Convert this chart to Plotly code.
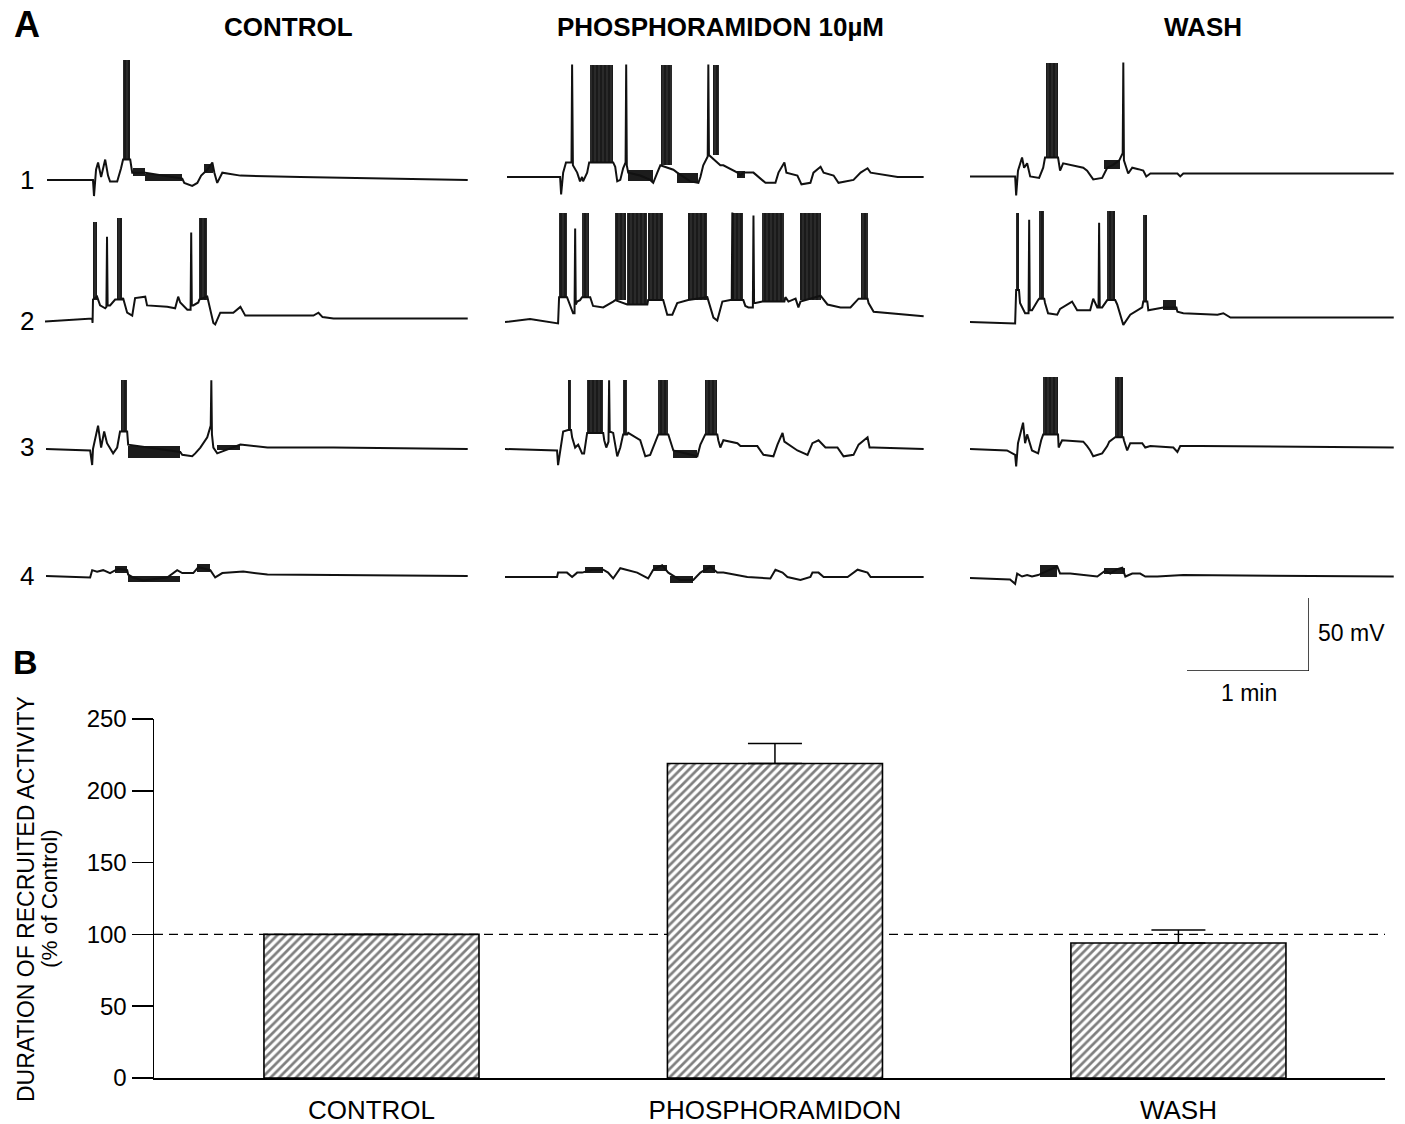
import plotly.graph_objects as go

# ============================ DATA ============================
# Panel A: membrane potential recordings (time in s from trace start, mV relative to rest)
CONDITIONS = ["CONTROL", "PHOSPHORAMIDON 10µM", "WASH"]
CELL_LABELS = ["1", "2", "3", "4"]

# --- cell 1 ---
R1_CONTROL = [(1.0, 0), (23.6, 0), (24.1, -11), (25.1, 7), (26.1, 12), (27.6, 2), (29.6, 14), (31.0, 3),
              (32.0, -1), (35.5, -1), (37.4, 8), (38.4, 14), (41.9, 14), (42.9, 5), (49.3, 5), (67.5, 1),
              (68.5, -2), (72.4, -4), (74.9, -2), (76.8, 3), (79.8, 7), (82.3, 12), (83.3, 5), (84.7, -2),
              (87.2, 5), (96.1, 3), (125.6, 2), (207.9, 0)]
R1_CONTROL_BURSTS = [(38.4, 41.9, 14, 82)]
R1_CONTROL_BANDS = [(43.3, 49.3, 3, 8), (49.3, 67.5, -1, 4), (78.0, 82.5, 5, 11)]

R1_PHOSPHO = [(1.0, 0), (27.1, 0), (27.6, -12), (28.6, 3), (30.0, 10), (32.7, 10), (33.0, 77), (33.4, 8),
              (35.5, 3), (36.9, -3), (37.9, 0), (38.4, -3), (40.4, 3), (41.4, 10), (53.2, 10), (54.2, 7),
              (55.2, -3), (56.7, -2), (58.1, 6), (59.3, 10), (59.6, 77), (59.9, 8), (60.6, 3), (66.5, 1),
              (71.4, -2), (72.9, -4), (74.9, 3), (76.4, 8), (82.8, 5), (84.7, 3), (91.1, -3), (95.1, -4),
              (96.1, 0), (97.5, 8), (99.7, 14), (100.0, 77), (100.3, 15), (105.9, 8), (107.4, 8), (114.3, 3),
              (115.8, 1), (117.2, 3), (122.2, 3), (124.6, 0), (128.1, -4), (133.0, -4), (134.5, 3),
              (137.4, 10), (138.4, 3), (143.8, 1), (145.8, -5), (150.2, -4), (151.7, 3), (155.2, 7),
              (156.7, 3), (161.6, 1), (164.0, -4), (171.4, -2), (174.9, 3), (178.3, 6), (179.8, 3),
              (193.1, 0), (205.9, 0)]
R1_PHOSPHO_BURSTS = [(41.9, 53.2, 10, 77), (76.8, 82.3, 8, 77), (102.4, 105.4, 15, 77)]
R1_PHOSPHO_BANDS = [(60.6, 72.9, -3, 5), (84.7, 95.1, -4, 3), (114.0, 118.0, -1, 4)]

R1_WASH = [(0, -1), (22.2, -1), (22.7, -14), (23.6, 3), (25.6, 12), (26.6, 5), (28.1, 8), (29.6, -1),
           (34.0, -2), (36.0, 5), (36.9, 12), (43.3, 12), (44.3, 3), (45.8, 8), (55.7, 5), (57.6, 3),
           (60.6, -3), (65.0, -2), (67.5, 5), (70.4, 7), (73.4, 10), (75.1, 15), (75.4, 77), (75.7, 10),
           (77.8, 1), (79.8, 5), (82.8, 4), (85.2, 3), (86.7, -1), (88.7, 1), (102.0, 1), (103.4, -1),
           (104.9, 1), (208.4, 1)]
R1_WASH_BURSTS = [(37.4, 43.3, 12, 77)]
R1_WASH_BANDS = [(66.0, 74.0, 4, 10)]

# --- cell 2 ---
R2_CONTROL = [(0, -1), (23.2, 1), (23.4, -2), (23.6, 14), (25.6, 16), (27.1, 10), (29.6, 8), (30.2, 9),
              (30.5, 57), (30.8, 10), (32.0, 10), (34.5, 14), (35.5, 14), (37.9, 14), (38.4, 15), (40.4, 5),
              (42.9, 3), (44.3, 15), (49.3, 16), (50.2, 10), (60.1, 9), (64.0, 8), (65.5, 16), (66.5, 12),
              (70.0, 7), (71.6, 7), (71.9, 60), (72.2, 10), (72.9, 10), (75.4, 12), (75.9, 14), (79.8, 16),
              (82.8, -2), (83.7, -3), (86.2, 5), (92.6, 5), (96.1, 9), (98.5, 3), (101.0, 3), (132.0, 3),
              (134.5, 5), (136.5, 2), (141.9, 1), (207.9, 1)]
R2_CONTROL_BURSTS = [(23.6, 25.6, 14, 67), (35.5, 37.9, 14, 70), (75.9, 79.8, 14, 70)]
R2_CONTROL_BANDS = []

R2_PHOSPHO = [(0, 0), (12.3, 2), (26.1, -1), (26.6, 17), (30.5, 17), (31.0, 15), (33.5, 6), (34.2, 6),
              (34.5, 64), (34.8, 12), (35.5, 14), (36.9, 15), (37.9, 17), (41.4, 17), (41.9, 17), (43.3, 11),
              (48.3, 10), (53.2, 14), (54.2, 15), (60.1, 12), (70.0, 12), (70.4, 15), (77.8, 15), (79.8, 5),
              (82.3, 5), (84.7, 13), (89.7, 15), (90.1, 15), (99.5, 17), (102.5, 3), (104.4, 1), (106.9, 14),
              (110.8, 15), (111.5, 15), (111.8, 75), (112.1, 15), (117.2, 15), (118.2, 11), (119.7, 10),
              (121.9, 10), (122.2, 73), (122.5, 13), (123.2, 13), (126.6, 14), (137.4, 14), (137.9, 17),
              (139.4, 14), (142.9, 16), (144.3, 10), (145.3, 14), (155.2, 18), (158.6, 12), (165.0, 10),
              (169.9, 10), (173.9, 16), (174.9, 16), (178.3, 16), (178.8, 13), (181.3, 7), (205.9, 4)]
R2_PHOSPHO_BURSTS = [(26.6, 30.5, 17, 75), (37.9, 41.4, 17, 75), (54.2, 59.6, 15, 75), (60.1, 70.0, 12, 75),
                     (70.4, 77.8, 15, 75), (90.1, 99.5, 15, 75), (112.3, 117.2, 15, 75), (126.6, 137.4, 14, 75),
                     (145.3, 155.2, 15, 75), (174.9, 178.3, 16, 75)]
R2_PHOSPHO_BANDS = []

R2_WASH = [(0, 0), (22.2, -1), (22.7, 22), (24.1, 22), (24.6, 13), (27.1, 6), (28.8, 6), (29.1, 70),
           (29.4, 8), (30.5, 8), (33.5, 15), (34.0, 16), (36.5, 16), (36.9, 13), (38.4, 6), (42.9, 5),
           (44.3, 9), (50.2, 14), (52.7, 8), (59.1, 8), (60.6, 16), (62.6, 10), (63.2, 10), (63.5, 68),
           (63.8, 10), (65.0, 10), (67.5, 15), (71.4, 15), (72.4, 12), (75.4, -2), (78.8, 5), (84.7, 10),
           (85.2, 14), (87.2, 14), (87.7, 8), (95.1, 10), (101.5, 10), (102.0, 7), (104.9, 6), (121.7, 5),
           (124.6, 6), (128.1, 3), (208.4, 3)]
R2_WASH_BURSTS = [(22.7, 24.1, 22, 75), (34.0, 36.5, 16, 76), (67.5, 71.4, 15, 76), (85.2, 87.2, 14, 73)]
R2_WASH_BANDS = [(95.1, 101.5, 8, 15)]

# --- cell 3 ---
R3_CONTROL = [(0.5, 0), (22.2, -1), (23.2, -11), (23.6, 0), (26.1, 16), (27.6, 1), (29.1, 12), (30.5, 4),
              (33.5, -3), (35.5, 1), (36.9, 12), (37.4, 12), (40.4, 12), (40.9, 3), (66.5, -2), (67.5, -4),
              (72.4, -5), (73.9, -3), (76.4, 1), (79.8, 8), (81.5, 16), (81.8, 47), (82.1, 10),
              (82.8, 1), (84.7, -3), (96.1, 3), (109.4, 1), (141.9, 1), (207.9, 0)]
R3_CONTROL_BURSTS = [(37.4, 40.4, 12, 47)]
R3_CONTROL_BANDS = [(40.9, 66.5, -6, 2), (84.7, 96.1, -1, 3)]

R3_PHOSPHO = [(0, 0), (25.6, -1), (26.1, -11), (27.1, -1), (28.6, 12), (31.0, 13), (32.5, 13), (33.0, 8),
              (34.5, 1), (36.0, 3), (37.9, -3), (38.9, -3), (40.4, 11), (48.3, 11), (48.8, 6), (49.8, 1),
              (50.9, 5), (51.2, 47), (51.5, 12), (53.2, 11), (55.2, -5), (56.7, 1), (58.1, 10), (60.1, 10),
              (60.6, 11), (66.5, 6), (69.0, -5), (71.4, -4), (73.9, 4), (75.4, 10), (80.3, 10), (81.3, 5),
              (82.8, -1), (94.6, -5), (96.1, 3), (98.5, 10), (104.4, 10), (104.9, 6), (105.9, 1), (107.4, 6),
              (114.3, 4), (115.8, 2), (124.1, 2), (127.1, -4), (132.0, -5), (134.0, 3), (136.5, 11),
              (137.4, 5), (143.8, -1), (148.8, -4), (151.2, 4), (154.2, 6), (157.6, 1), (163.5, 1),
              (166.5, -5), (171.4, -4), (173.9, 3), (178.3, 8), (179.3, 1), (181.3, 1), (205.9, 0)]
R3_PHOSPHO_BURSTS = [(31.0, 32.5, 13, 47), (40.4, 48.3, 11, 47), (58.1, 60.1, 10, 47), (75.4, 80.3, 10, 47),
                     (98.5, 104.4, 10, 47)]
R3_PHOSPHO_BANDS = [(82.8, 94.6, -6, -1)]

R3_WASH = [(0, 0), (18.2, -1), (22.2, -4), (22.7, -12), (23.6, 4), (26.1, 18), (27.1, 4), (28.1, 10),
           (30.5, -1), (33.5, -3), (35.0, 6), (36.0, 10), (43.3, 10), (43.6, 1), (45.3, 6), (55.7, 5),
           (57.6, 2), (59.1, -1), (60.6, -5), (65.0, -3), (67.5, 2), (68.5, 5), (71.4, 8), (75.4, 8),
           (75.7, 6), (77.3, -1), (78.8, 4), (84.7, 4), (86.2, 1), (88.7, 2), (100.0, 1), (102.0, -2),
           (103.4, 2), (113.3, 2), (208.4, 1)]
R3_WASH_BURSTS = [(36.0, 43.3, 10, 49), (71.4, 75.4, 8, 49)]
R3_WASH_BANDS = []

# --- cell 4 ---
R4_CONTROL = [(0.5, 0), (22.2, -1), (23.2, 4), (25.6, 3), (28.6, 4), (32.0, 2), (36.0, 5), (40.4, 4),
              (40.9, 1), (43.3, -1), (48.3, -3), (60.1, -1), (65.0, 4), (67.5, 2), (72.9, 2), (75.4, 6),
              (81.3, 4), (83.7, -1), (87.2, 2), (97.5, 3), (109.4, 1), (207.9, 0)]
R4_CONTROL_BURSTS = []
R4_CONTROL_BANDS = [(34.5, 40.4, 2, 7), (40.9, 66.5, -4, 0), (74.9, 81.3, 3, 8)]

R4_PHOSPHO = [(0, 0), (25.6, 0), (26.1, 3), (30.5, 3), (33.0, 0), (35.5, 3), (37.9, 3), (43.0, 5),
              (48.3, 5), (50.7, 3), (53.2, -1), (56.7, 6), (65.0, 3), (68.0, 1), (70.4, -1), (72.9, 5),
              (77.3, 8), (80.3, 3), (86.0, -2), (92.6, -2), (96.1, 3), (101.0, 7), (104.4, 3), (107.4, 3),
              (119.2, 0), (130.5, -1), (133.0, 5), (136.5, 3), (138.9, 0), (145.3, -2), (150.2, 0),
              (151.2, 3), (154.2, 3), (156.7, 0), (168.5, 0), (173.4, 5), (178.3, 3), (179.8, 0), (205.9, 0)]
R4_PHOSPHO_BURSTS = []
R4_PHOSPHO_BANDS = [(39.4, 48.3, 3, 7), (72.9, 79.8, 4, 8), (81.3, 92.6, -4, 1), (97.5, 103.4, 3, 8)]

R4_WASH = [(0, 0), (19.7, -1), (22.2, -4), (23.2, 3), (25.6, 1), (28.1, 2), (30.5, 1), (33.5, 2),
           (42.9, 8), (44.3, 3), (49.3, 3), (62.6, 1), (66.5, 5), (69.0, 3), (72.4, 6), (74.9, 7),
           (76.4, 1), (79.8, 3), (83.7, 3), (86.2, 1), (92.1, 1), (104.9, 2), (208.4, 1)]
R4_WASH_BURSTS = []
R4_WASH_BANDS = [(34.5, 42.9, 1, 9), (66.0, 76.0, 3, 7)]

SCALE_TIME_S = 60       # "1 min"
SCALE_VOLT_MV = 50      # "50 mV"

# Panel B: duration of recruited activity (% of control)
BAR_CATEGORIES = ["CONTROL", "PHOSPHORAMIDON", "WASH"]
BAR_VALUES = [100, 219, 94]
BAR_ERRORS = [0, 14, 9]
REFERENCE_LEVEL = 100
Y_TICKS = [0, 50, 100, 150, 200, 250]

GRID = [
    [(R1_CONTROL, R1_CONTROL_BURSTS, R1_CONTROL_BANDS), (R1_PHOSPHO, R1_PHOSPHO_BURSTS, R1_PHOSPHO_BANDS),
     (R1_WASH, R1_WASH_BURSTS, R1_WASH_BANDS)],
    [(R2_CONTROL, R2_CONTROL_BURSTS, R2_CONTROL_BANDS), (R2_PHOSPHO, R2_PHOSPHO_BURSTS, R2_PHOSPHO_BANDS),
     (R2_WASH, R2_WASH_BURSTS, R2_WASH_BANDS)],
    [(R3_CONTROL, R3_CONTROL_BURSTS, R3_CONTROL_BANDS), (R3_PHOSPHO, R3_PHOSPHO_BURSTS, R3_PHOSPHO_BANDS),
     (R3_WASH, R3_WASH_BURSTS, R3_WASH_BANDS)],
    [(R4_CONTROL, R4_CONTROL_BURSTS, R4_CONTROL_BANDS), (R4_PHOSPHO, R4_PHOSPHO_BURSTS, R4_PHOSPHO_BANDS),
     (R4_WASH, R4_WASH_BURSTS, R4_WASH_BANDS)],
]

# ============================ LAYOUT ============================
W, H = 1405, 1124
FONT = "Liberation Sans, Arial, Helvetica, sans-serif"
PX_PER_S = 122 / 60
PX_PER_MV = 73 / 50
T_SPAN = 210
V_LO, V_HI = -20, 90
COL_LEFT_PX = [45, 505, 970]
ROW_BASE_PX = [[180, 177, 175], [320, 322, 322], [449, 449, 449], [576, 577, 578]]
LINE_W = 2.0
INK = "#111111"


def px(xp):
    return xp / W


def py(yp):
    return 1 - yp / H


fig = go.Figure()
lay = {}

for r, row in enumerate(GRID):
    for c, (trace, bursts, bands) in enumerate(row):
        k = r * 3 + c + 1
        sfx = "" if k == 1 else str(k)
        x0 = COL_LEFT_PX[c]
        x1 = x0 + T_SPAN * PX_PER_S
        base = ROW_BASE_PX[r][c]
        yb = base - V_LO * PX_PER_MV
        yt = base - V_HI * PX_PER_MV
        lay["xaxis" + sfx] = dict(domain=[px(x0), px(x1)], range=[0, T_SPAN], visible=False,
                                  anchor="y" + sfx, fixedrange=True, automargin=False)
        lay["yaxis" + sfx] = dict(domain=[py(yb), py(yt)], range=[V_LO, V_HI], visible=False,
                                  anchor="x" + sfx, fixedrange=True, automargin=False)
        if bursts:
            # dense spike bursts: dark block with faint vertical striations
            fig.add_trace(go.Bar(
                x=[(a + b) / 2 for a, b, _, _ in bursts],
                width=[b - a for a, b, _, _ in bursts],
                base=[lo for _, _, lo, _ in bursts],
                y=[hi - lo for _, _, lo, hi in bursts],
                marker=dict(color="#1a1a1a", line=dict(width=0),
                            pattern=dict(shape="|", fgcolor="#9a9a9a", bgcolor="#1a1a1a",
                                         size=4, solidity=0.12)),
                xaxis="x" + sfx, yaxis="y" + sfx, showlegend=False, hoverinfo="skip"))
        if bands:
            # thick noisy stretches of the recording
            fig.add_trace(go.Bar(
                x=[(a + b) / 2 for a, b, _, _ in bands],
                width=[b - a for a, b, _, _ in bands],
                base=[lo for _, _, lo, _ in bands],
                y=[hi - lo for _, _, lo, hi in bands],
                marker=dict(color="#1c1c1c", line=dict(width=0)),
                xaxis="x" + sfx, yaxis="y" + sfx, showlegend=False, hoverinfo="skip"))
        fig.add_trace(go.Scatter(
            x=[p[0] for p in trace], y=[p[1] for p in trace], mode="lines",
            line=dict(color=INK, width=LINE_W), cliponaxis=False,
            xaxis="x" + sfx, yaxis="y" + sfx, showlegend=False, hoverinfo="skip"))

# scale bar (own axes with same mV / s scaling)
SB_RIGHT, SB_BOTTOM = 1309, 671
lay["xaxis14"] = dict(domain=[px(SB_RIGHT - SCALE_TIME_S * PX_PER_S), px(SB_RIGHT)],
                      range=[0, SCALE_TIME_S], visible=False, anchor="y14", fixedrange=True, automargin=False)
lay["yaxis14"] = dict(domain=[py(SB_BOTTOM), py(SB_BOTTOM - SCALE_VOLT_MV * PX_PER_MV)],
                      range=[0, SCALE_VOLT_MV], visible=False, anchor="x14", fixedrange=True, automargin=False)
fig.add_trace(go.Scatter(x=[0, SCALE_TIME_S, SCALE_TIME_S], y=[0, 0, SCALE_VOLT_MV], mode="lines",
                         line=dict(color=INK, width=1.5), cliponaxis=False,
                         xaxis="x14", yaxis="y14", showlegend=False, hoverinfo="skip"))

# Panel B bar chart
fig.add_trace(go.Bar(
    x=BAR_CATEGORIES, y=BAR_VALUES, width=0.533,
    marker=dict(color="white", line=dict(color="black", width=1.6),
                pattern=dict(shape="/", fgcolor="black", bgcolor="white", size=6, solidity=0.45)),
    error_y=dict(type="data", symmetric=False, array=BAR_ERRORS, arrayminus=[0] * len(BAR_ERRORS),
                 color="black", thickness=1.5, width=27),
    xaxis="x13", yaxis="y13", showlegend=False, hoverinfo="skip"))

lay["xaxis13"] = dict(domain=[px(154), px(1385)], anchor="y13", type="category",
                      range=[-0.539, 2.512], showline=True, linecolor="black", linewidth=1.5,
                      ticks="", showgrid=False, zeroline=False, fixedrange=True, automargin=False,
                      tickfont=dict(family=FONT, size=26, color="black"), ticklabelstandoff=8)
lay["yaxis13"] = dict(domain=[py(1078), py(719)], anchor="x13", range=[0, 250], tickvals=Y_TICKS,
                      showline=True, linecolor="black", linewidth=1.5, ticks="outside", ticklen=21,
                      tickwidth=1.5, tickcolor="black", showgrid=False, zeroline=False, fixedrange=True,
                      automargin=False, tickfont=dict(family=FONT, size=24, color="black"))

shapes = [dict(type="line", xref="x13 domain", yref="y13", x0=0, x1=1, y0=REFERENCE_LEVEL,
               y1=REFERENCE_LEVEL, line=dict(color="black", width=1.2, dash="9px,6px"), layer="below")]

ann = []


def text(s, xp, yp, size, bold=False, xanchor="center", angle=0):
    ann.append(dict(text=f"<b>{s}</b>" if bold else s, x=px(xp), y=py(yp), xref="paper", yref="paper",
                    xanchor=xanchor, yanchor="middle", showarrow=False, textangle=angle,
                    font=dict(family=FONT, size=size, color="black")))


text("A", 27, 25, 36, bold=True)
text("B", 26, 662, 34, bold=True)
for name, cx in zip(CONDITIONS, [288, 721, 1203]):
    text(name, cx, 27, 26, bold=True)
for lbl, yy in zip(CELL_LABELS, [180, 321, 447, 576]):
    text(lbl, 27, yy, 26)
text("50 mV", 1316, 633, 23, xanchor="left")
text("1 min", 1249, 693, 23)
text("DURATION OF RECRUITED ACTIVITY", 26, 899, 23, angle=-90)
text("(% of Control)", 49, 899, 22.5, angle=-90)

fig.update_layout(width=W, height=H, autosize=False,
                  margin=dict(l=0, r=0, t=0, b=0, pad=0, autoexpand=False), paper_bgcolor="white",
                  plot_bgcolor="rgba(0,0,0,0)", barmode="overlay", bargap=0, shapes=shapes,
                  annotations=ann, font=dict(family=FONT, color="black"), **lay)

fig.write_html("out.html", config={"displayModeBar": False, "staticPlot": True, "responsive": False},
               post_script="document.body.style.margin='0';document.body.style.overflow='hidden';")
